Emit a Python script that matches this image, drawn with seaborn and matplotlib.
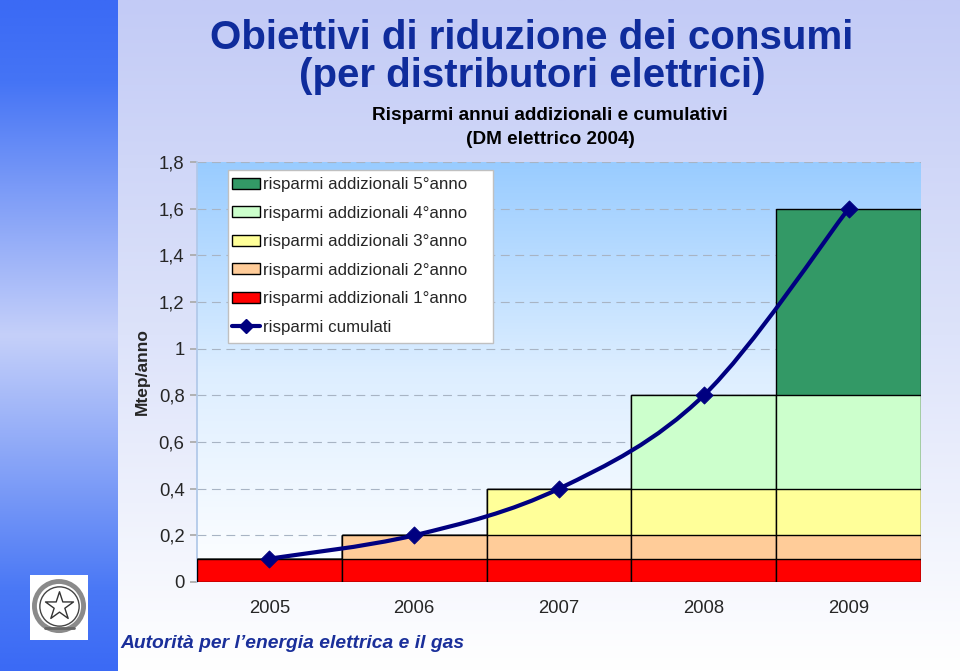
import numpy as np
import matplotlib
matplotlib.use("Agg")
import matplotlib.pyplot as plt
import seaborn as sns
import pandas as pd
from matplotlib.patches import Patch, PathPatch, Rectangle
from matplotlib.lines import Line2D
from matplotlib.path import Path
from matplotlib.colors import LinearSegmentedColormap

# ---- data ----
years = ["2005", "2006", "2007", "2008", "2009"]
add_1 = [0.1, 0.1, 0.1, 0.1, 0.1]
add_2 = [0.0, 0.1, 0.1, 0.1, 0.1]
add_3 = [0.0, 0.0, 0.2, 0.2, 0.2]
add_4 = [0.0, 0.0, 0.0, 0.4, 0.4]
add_5 = [0.0, 0.0, 0.0, 0.0, 0.8]
cumulati = [0.1, 0.2, 0.4, 0.8, 1.6]
yticks = [0, 0.2, 0.4, 0.6, 0.8, 1.0, 1.2, 1.4, 1.6, 1.8]
ytick_labels = ["0", "0,2", "0,4", "0,6", "0,8", "1", "1,2", "1,4", "1,6", "1,8"]
labels = ["risparmi addizionali 1°anno", "risparmi addizionali 2°anno",
          "risparmi addizionali 3°anno", "risparmi addizionali 4°anno",
          "risparmi addizionali 5°anno"]
line_label = "risparmi cumulati"
colors = ["#ff0000", "#ffcc99", "#ffff99", "#ccffcc", "#339966"]
navy = "#000080"

sns.set_theme(style="white")
plt.rcParams["font.family"] = ["Liberation Sans", "DejaVu Sans"]

fig = plt.figure(figsize=(9.6, 6.71), dpi=100)

# figure background gradient
bg = fig.add_axes([0, 0, 1, 1], zorder=-10)
bg_cmap = LinearSegmentedColormap.from_list("bg", ["#c3cbf6", "#dde3fa", "#ffffff"])
bg.imshow(np.linspace(0, 1, 256).reshape(-1, 1), aspect="auto", cmap=bg_cmap,
          extent=[0, 1, 0, 1])
bg.set_axis_off()

# left strip
strip = fig.add_axes([0, 0, 118 / 960, 1], zorder=-9)
strip_cmap = LinearSegmentedColormap.from_list(
    "strip", [(0, "#3b6af5"), (0.12, "#4574f5"), (0.5, "#c5d0fa"),
              (0.88, "#4a78f5"), (1, "#3b6af5")])
strip.imshow(np.linspace(0, 1, 256).reshape(-1, 1), aspect="auto", cmap=strip_cmap,
             extent=[0, 1, 0, 1])
strip.set_axis_off()

# logo box
logo = fig.add_axes([30 / 960, 1 - 640 / 671, 58 / 960, 65 / 671], zorder=5)
logo.set_facecolor("white")
logo.set_xlim(-1, 1)
logo.set_ylim(-1.12, 1.12)
logo.set_xticks([])
logo.set_yticks([])
for s in logo.spines.values():
    s.set_visible(False)
logo.scatter([0], [0.05], s=1250, marker="o", facecolor="none", edgecolor="#8a8a8a",
             linewidth=3.5)
logo.scatter([0], [0.05], s=800, marker="o", facecolor="white", edgecolor="#444444", linewidth=1)
logo.scatter([0], [0.05], s=450, marker="*", facecolor="white", edgecolor="#333333", linewidth=1)
logo.plot([-0.5, 0.5], [-0.72, -0.72], color="#666666", lw=2)

ax = fig.add_axes([197 / 960, 1 - 582 / 671, 724 / 960, 420 / 671])
ax.set_facecolor("none")

# plot-area gradient
pa_cmap = LinearSegmentedColormap.from_list("pa", ["#ffffff", "#ddeeff", "#99ccff"])
ax.imshow(np.linspace(0, 1, 256).reshape(-1, 1), aspect="auto", cmap=pa_cmap,
          origin="lower", extent=[-0.5, 4.5, 0, 1.8], zorder=0)

# stacked bars (draw cumulative tops, tallest first)
layers = [add_1, add_2, add_3, add_4, add_5]
stack = np.cumsum(np.array(layers), axis=0)
for i in range(4, -1, -1):
    df = pd.DataFrame({"anno": years, "valore": stack[i]})
    sns.barplot(data=df, x="anno", y="valore", color=colors[i], width=1.0,
                edgecolor="black", linewidth=1.0, saturation=1, ax=ax, zorder=3)

# smooth cumulative line (Bezier through data points)
pts = np.column_stack([np.arange(len(cumulati)), cumulati]).astype(float)
ext = np.vstack([pts[0], pts, pts[-1]])
verts = [tuple(pts[0])]
codes = [Path.MOVETO]
for k in range(len(pts) - 1):
    p0, p1, p2, p3 = ext[k], ext[k + 1], ext[k + 2], ext[k + 3]
    c1 = p1 + (p2 - p0) / 6
    c2 = p2 - (p3 - p1) / 6
    verts += [tuple(c1), tuple(c2), tuple(p2)]
    codes += [Path.CURVE4] * 3
ax.add_patch(PathPatch(Path(verts, codes), facecolor="none", edgecolor=navy,
                       linewidth=3, zorder=5))
sns.scatterplot(x=np.arange(len(cumulati)), y=cumulati, marker="D", s=75,
                color=navy, edgecolor=navy, ax=ax, zorder=6, legend=False)

ax.set_xlim(-0.5, 4.5)
ax.set_ylim(0, 1.8)
ax.set_yticks(yticks)
ax.set_yticklabels(ytick_labels, fontsize=13.3)
ax.set_xticks(range(5))
ax.set_xticklabels(years, fontsize=13.3)
ax.tick_params(axis="x", length=0, pad=13)
ax.set_xticks(np.arange(-0.5, 5.0, 1.0), minor=True)
ax.tick_params(axis="x", which="minor", length=5, color="#cccccc", direction="out")
ax.tick_params(axis="y", length=5, color="#aaaaaa", direction="out", left=True, pad=4)
ax.yaxis.grid(True, linestyle=(0, (8, 5)), color="#a8b4c4", linewidth=0.8, zorder=1)
ax.set_axisbelow(True)
ax.set_xlabel("")
ax.set_ylabel("Mtep/anno", fontsize=12.5, fontweight="bold", labelpad=6)
for s in ["top", "right", "bottom"]:
    ax.spines[s].set_visible(False)
ax.spines["left"].set_color("#b0c8e8")

# legend frame + legend
ax.add_patch(Rectangle((0.0428, 0.569), 0.366, 0.412, transform=ax.transAxes,
                       facecolor="white", edgecolor="#c0c0c0", linewidth=1,
                       zorder=9, clip_on=False))
handles = [Patch(facecolor=colors[i], edgecolor="black", label=labels[i]) for i in range(4, -1, -1)]
handles.append(Line2D([0], [0], color=navy, lw=3, marker="D", markersize=7, label=line_label))
leg = ax.legend(handles=handles, loc="upper left", bbox_to_anchor=(0.0483, 0.964),
                borderaxespad=0, fontsize=12.2, frameon=False,
                handlelength=1.65, handleheight=0.6,
                labelspacing=0.80, handletextpad=0.18, borderpad=0)
leg.set_zorder(10)

# titles
title_color = "#0f2c9c"
fig.text(532 / 960, 1 - 38 / 671, "Obiettivi di riduzione dei consumi", ha="center",
         va="center", fontsize=29, fontweight="bold", color=title_color)
fig.text(532 / 960, 1 - 76 / 671, "(per distributori elettrici)", ha="center",
         va="center", fontsize=29, fontweight="bold", color=title_color)
fig.text(550 / 960, 1 - 116 / 671, "Risparmi annui addizionali e cumulativi", ha="center",
         va="center", fontsize=13.7, fontweight="bold", color="black")
fig.text(550 / 960, 1 - 140 / 671, "(DM elettrico 2004)", ha="center",
         va="center", fontsize=13.7, fontweight="bold", color="black")
fig.text(120 / 960, 1 - 644 / 671, "Autorità per l’energia elettrica e il gas", ha="left",
         va="center", fontsize=13.9, fontweight="bold", fontstyle="italic", color="#1a2f9a")

fig.savefig("out.png", dpi=100)
